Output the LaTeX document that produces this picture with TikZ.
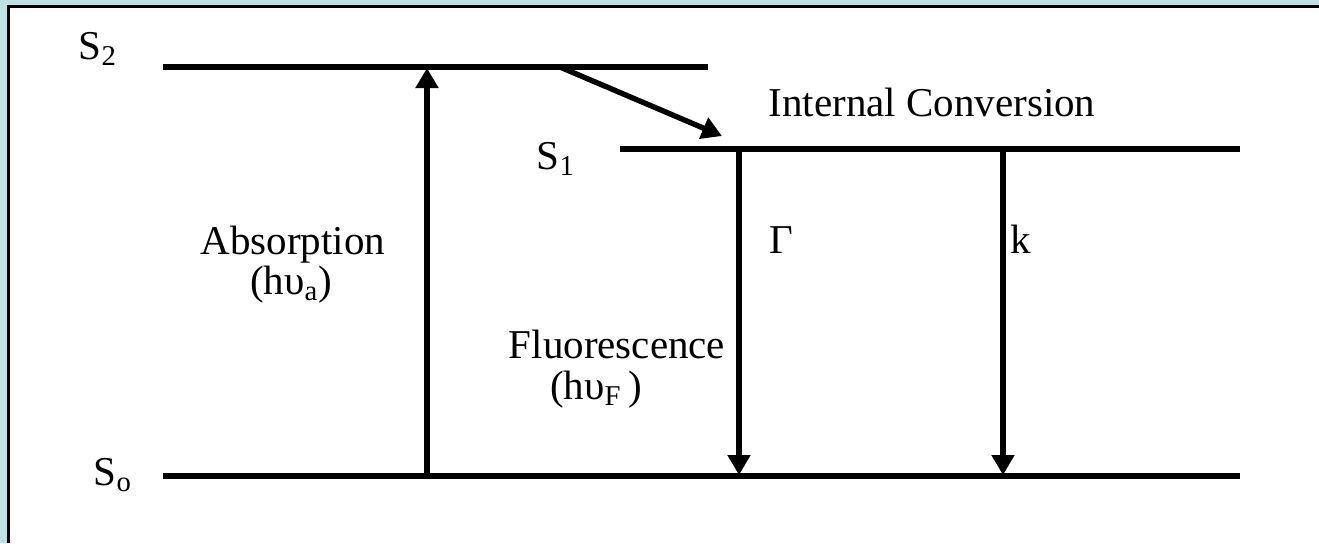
\documentclass[tikz,border=0pt]{standalone}
\usepackage{fontspec}
\setmainfont{Liberation Serif}
\usetikzlibrary{arrows.meta}
\definecolor{bgcyan}{RGB}{189,225,229}
\begin{document}
\begin{tikzpicture}[x=0.5pt,y=-0.5pt,
  level/.style={line width=2.7pt},
  trans/.style={line width=2.7pt,-{Triangle[width=11pt,length=10pt]}},
  lbl/.style={font=\fontsize{20.5}{24}\selectfont, inner sep=0pt},
  lblb/.style={lbl, anchor=base}]
\useasboundingbox (0,0) rectangle (1319,543);
\fill[bgcyan] (0,0) rectangle (1319,543);
\fill[white] (8.7,6.3) rectangle (1319,543);
\draw[line width=1.25pt] (8.7,543) -- (8.7,6.3) -- (1319,6.3);
% levels
\coordinate (s2l) at (163,67);
\coordinate (s2r) at (708,67);
\coordinate (s1l) at (620,149);
\coordinate (s1r) at (1240,149);
\coordinate (s0l) at (163,476);
\coordinate (s0r) at (1240,476);
\draw[level] (s2l) -- (s2r);
\draw[level] (s1l) -- (s1r);
\draw[level] (s0l) -- (s0r);
% transitions
\coordinate (absA) at (427,478);
\coordinate (absB) at (427,68);
\coordinate (icA) at (560,67);
\coordinate (icB) at (722,136);
\coordinate (flA) at (739,147);
\coordinate (flB) at (739,475);
\coordinate (kA) at (1003,147);
\coordinate (kB) at (1003,475);
\draw[trans] (absA) -- (absB);
\draw[trans] (icA) -- (icB);
\draw[trans] (flA) -- (flB);
\draw[trans] (kA) -- (kB);
% labels
\node[lbl] (lS2) at (98,49) {S\textsubscript{2}};
\node[lbl] (lS1) at (556,159) {S\textsubscript{1}};
\node[lbl] (lS0) at (113,475) {S\textsubscript{o}};
\node[lblb] (lIC) at (932,116) {Internal Conversion};
\node[lblb] (lAbs) at (293,254) {Absorption};
\node[lblb] (lAbsH) at (291,294) {(hυ\textsubscript{a})};
\node[lblb] (lG) at (781,253) {Γ};
\node[lblb] (lk) at (1021,253) {k};
\node[lblb] (lFl) at (617,358) {Fluorescence};
\node[lblb] (lFlH) at (596,399) {(hυ\textsubscript{F}\,)};
\end{tikzpicture}
\end{document}
